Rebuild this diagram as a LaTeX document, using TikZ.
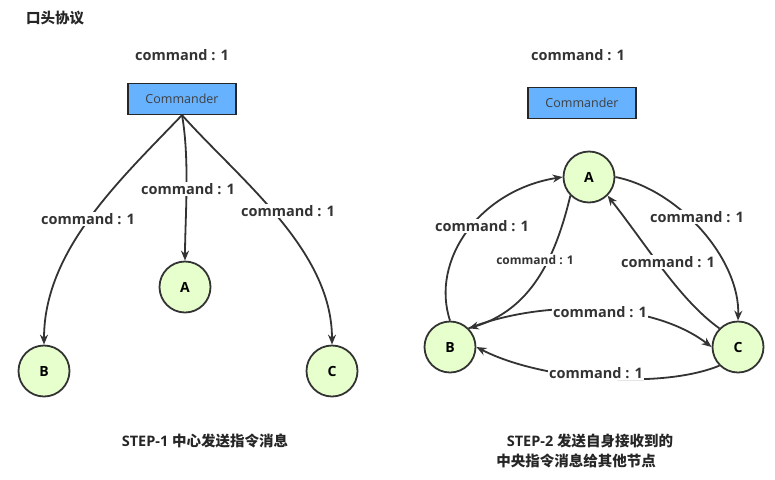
\documentclass[tikz,border=0pt]{standalone}
\usepackage{fontspec}
\setmainfont{Open Sans}
\newfontfamily\cjk{Noto Sans CJK SC}
\usetikzlibrary{arrows.meta}
\begin{document}
\begin{tikzpicture}[x=1pt,y=-1pt,
 lbl/.style={font=\bfseries\fontsize{14.5}{16}\selectfont, text=black!80, fill=white, inner sep=1pt},
 slbl/.style={font=\bfseries\fontsize{12}{14}\selectfont, text=black!80, fill=white, inner sep=1pt},
 nd/.style={circle, draw=black!80, line width=1.8pt, fill={rgb,255:red,230;green,255;blue,204}, minimum size=51pt, inner sep=0pt, font=\bfseries\fontsize{14}{16}\selectfont},
 box/.style={draw=black!85, line width=1.2pt, fill={rgb,255:red,102;green,178;blue,255}, minimum width=108pt, minimum height=31pt, font=\fontsize{12.5}{14}\selectfont, text=black!75},
 arr/.style={-{Stealth[length=10pt,width=8pt]}, line width=1.8pt, draw=black!80},
 ttl/.style={font=\bfseries\fontsize{14.5}{16}\selectfont, text=black!85}]
\useasboundingbox (0,0) rectangle (775,479);
\node[ttl] (t0) at (55,18) {\cjk\bfseries 口头协议};
% left
\node[lbl] (c1) at (182,55) {command : 1};
\node[box] (cmd1) at (182,99) {Commander};
\node[nd] (A1) at (185,287) {A};
\node[nd] (B1) at (44,371) {B};
\node[nd] (C1) at (332,371) {C};
\draw[arr] (cmd1.south) .. controls (120,180) and (44,250) .. (B1.north);
\draw[arr] (cmd1.south) .. controls (190,160) and (185,220) .. (A1.north);
\draw[arr] (cmd1.south) .. controls (240,180) and (332,250) .. (C1.north);
\node[lbl] (l1) at (88,219) {command : 1};
\node[lbl] (l2) at (188,189) {command : 1};
\node[lbl] (l3) at (288,211) {command : 1};
\node[ttl] (s1) at (205,441) {STEP-1 {\cjk\bfseries 中心发送指令消息}};
% right
\node[lbl] (c2) at (578,55) {command : 1};
\node[box] (cmd2) at (582,103) {Commander};
\node[nd] (A2) at (589,177) {A};
\node[nd] (B2) at (450,347) {B};
\node[nd] (C2) at (738,347) {C};
\draw[arr] (B2.north) .. controls (430,260) and (480,190) .. (A2.west);
\draw[arr] (A2.south west) .. controls (555,260) and (530,310) .. (B2.north east);
\draw[arr] (A2.east) .. controls (680,190) and (740,260) .. (C2.north);
\draw[arr] (C2.north west) .. controls (680,300) and (650,250) .. (A2.south east);
\draw[arr] (B2.north east) .. controls (540,300) and (650,300) .. (C2.west);
\draw[arr] (C2.south west) .. controls (660,390) and (540,380) .. (B2.east);
\node[lbl] (l4) at (482,226) {command : 1};
\node[slbl] (l5) at (535,260) {command : 1};
\node[lbl] (l6) at (697,217) {command : 1};
\node[lbl] (l7) at (668,262) {command : 1};
\node[lbl] (l8) at (600,312) {command : 1};
\node[lbl] (l9) at (596,373) {command : 1};
\node[ttl] (s2) at (590,441) {STEP-2 {\cjk\bfseries 发送自身接收到的}};
\node[ttl] (s3) at (576,461) {\cjk\bfseries 中央指令消息给其他节点};
\end{tikzpicture}
\end{document}
